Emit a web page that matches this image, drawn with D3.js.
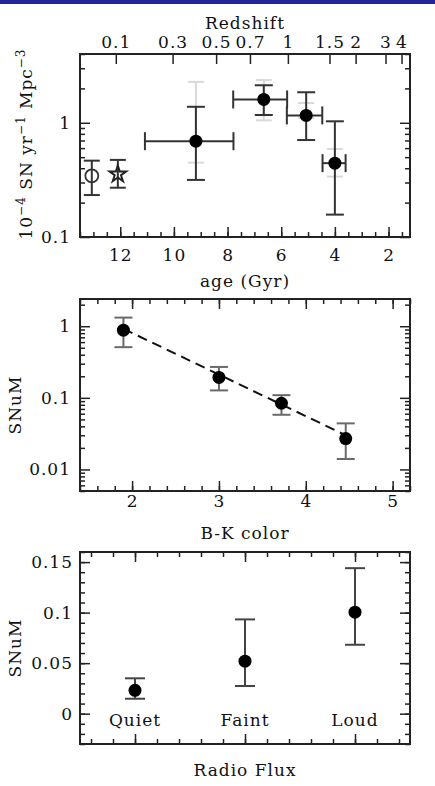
<!DOCTYPE html>
<meta charset="utf-8">
<script src="https://cdn.jsdelivr.net/npm/d3@7"></script>
<style>
  body { margin: 0; background: #fff; }
</style>
<div id="chart"></div>
<script>

// ---- data ----

// panel 1: rate vs age of the universe
var ageBins   = [9.18, 6.65, 5.07, 4.0];
var ageOld    = [11.08, 7.79, 5.79, 4.46];   // left end of x error bar
var ageYoung  = [7.78, 5.78, 4.47, 3.6];     // right end of x error bar
var rateBins  = [0.69, 1.60, 1.16, 0.443];
var rateHi    = [1.38, 2.13, 1.85, 1.03];
var rateLo    = [0.316, 1.17, 0.706, 0.157];
var sysHi     = [2.28, 2.37, 1.49, 0.59];
var sysLo     = [0.448, 1.05, 1.10, 0.338];

var localAge  = [13.06, 12.09];              // open circle, star
var localRate = [0.343, 0.362];
var localHi   = [0.466, 0.473];
var localLo   = [0.233, 0.27];

var ageTicks      = [2, 4, 6, 8, 10, 12];
var redshiftTicks = [0.1, 0.3, 0.5, 0.7, 1, 1.5, 2, 3, 4];
var redshiftLabels = ["0.1", "0.3", "0.5", "0.7", "1", "1.5", "2", "3", "4"];

// panel 2: SNuM vs B-K colour
var bkColor = [1.9, 3.0, 3.72, 4.46];
var bkSNuM  = [0.88, 0.193, 0.084, 0.027];
var bkHi    = [1.32, 0.27, 0.109, 0.044];
var bkLo    = [0.51, 0.127, 0.058, 0.014];
var fitX    = [1.9, 4.46];
var fitY    = [0.92, 0.030];
var bkTicks = [2, 3, 4, 5];

// panel 3: SNuM vs radio flux
var radioCats = ["Quiet", "Faint", "Loud"];
var radioSNuM = [0.0231, 0.052, 0.1005];
var radioHi   = [0.035, 0.0933, 0.144];
var radioLo   = [0.0148, 0.0274, 0.0682];
var radioTicks = [0, 0.05, 0.1, 0.15];

// ---- layout ----
var FONT = "DejaVu Serif, Liberation Serif, serif";
var FS = 17, LS = 1;
var INK = "#222";
var left = 80, right = 410;

var svg = d3.select("#chart").append("svg")
  .attr("width", 435)
  .attr("height", 786);

svg.append("rect")
  .attr("x", 0).attr("y", 0).attr("width", 435).attr("height", 4)
  .attr("fill", "#25239a");

// age of the universe at redshift z (flat LCDM, H0=70, Om=0.3)
function ageAt(z) {
  var om = 0.3, ol = 0.7, hub = 977.8 / 70;
  return 2 / (3 * Math.sqrt(ol)) * hub *
    Math.asinh(Math.sqrt(ol / om) * Math.pow(1 + z, -1.5));
}

function ticks(g, axis, tr, len, fmt, pad) {
  var a = g.append("g").attr("transform", tr)
    .call(axis.tickSize(-len).tickPadding(pad || 0)
      .tickFormat(fmt || function() { return ""; }));
  a.select(".domain").remove();
  a.selectAll("line").attr("stroke", INK).attr("stroke-width", 1.5);
  a.selectAll("text").attr("font-family", FONT).attr("font-size", FS)
    .attr("letter-spacing", LS).attr("fill", "#111");
  return a;
}

function frame(g, w, h) {
  g.append("rect")
    .attr("width", w).attr("height", h)
    .attr("fill", "none").attr("stroke", INK).attr("stroke-width", 2);
}

function vbar(g, x, y0, y1, cap, color) {
  g.append("line").attr("x1", x).attr("x2", x).attr("y1", y0).attr("y2", y1)
    .attr("stroke", color).attr("stroke-width", 2);
  [y0, y1].forEach(function(y) {
    g.append("line").attr("x1", x - cap).attr("x2", x + cap).attr("y1", y).attr("y2", y)
      .attr("stroke", color).attr("stroke-width", 2);
  });
}

function hbar(g, x0, x1, y, cap, color) {
  g.append("line").attr("x1", x0).attr("x2", x1).attr("y1", y).attr("y2", y)
    .attr("stroke", color).attr("stroke-width", 2);
  [x0, x1].forEach(function(x) {
    g.append("line").attr("x1", x).attr("x2", x).attr("y1", y - cap).attr("y2", y + cap)
      .attr("stroke", color).attr("stroke-width", 2);
  });
}

function text(g, s, x, y) {
  return g.append("text").attr("x", x).attr("y", y)
    .attr("font-family", FONT).attr("font-size", FS).attr("letter-spacing", LS)
    .attr("fill", "#111").attr("text-anchor", "middle").text(s);
}

// ---------------- panel 1 ----------------
var p1top = 54, p1h = 183, w = right - left;
var g1 = svg.append("g").attr("transform", "translate(" + left + "," + p1top + ")");

var x1 = d3.scaleLinear().domain([13.5, 1.2]).range([0, w]);
var y1 = d3.scaleLog().domain([0.1, 4]).range([p1h, 0]);

var ageMinor = d3.range(1.5, 13.51, 0.5);
var y1Major = [0.1, 1];
var y1Minor = y1.ticks().filter(function(d) { return y1Major.indexOf(d) < 0; });

ticks(g1, d3.axisBottom(x1).tickValues(ageMinor), "translate(0," + p1h + ")", 5);
ticks(g1, d3.axisBottom(x1).tickValues(ageTicks), "translate(0," + p1h + ")", 10,
  function(d) { return d; }, 12);
ticks(g1, d3.axisTop(x1).tickValues(redshiftTicks.map(ageAt)), "translate(0,0)", 10,
  function(d, i) { return redshiftLabels[i]; }, 6);
ticks(g1, d3.axisLeft(y1).tickValues(y1Minor), "translate(0,0)", 5);
ticks(g1, d3.axisLeft(y1).tickValues(y1Major), "translate(0,0)", 10,
  function(d) { return d; }, 9);
ticks(g1, d3.axisRight(y1).tickValues(y1Minor), "translate(" + w + ",0)", 5);
ticks(g1, d3.axisRight(y1).tickValues(y1Major), "translate(" + w + ",0)", 10);
frame(g1, w, p1h);

// grey systematic bars, behind
ageBins.forEach(function(a, i) {
  vbar(g1, x1(a), y1(sysHi[i]), y1(sysLo[i]), 8, "#d9d9d9");
});
ageBins.forEach(function(a, i) {
  vbar(g1, x1(a), y1(rateHi[i]), y1(rateLo[i]), 9, "#333");
  hbar(g1, x1(ageOld[i]), x1(ageYoung[i]), y1(rateBins[i]), 9, "#333");
  g1.append("circle").attr("cx", x1(a)).attr("cy", y1(rateBins[i])).attr("r", 6.5)
    .attr("fill", "#000");
});
localAge.forEach(function(a, i) {
  vbar(g1, x1(a), y1(localHi[i]), y1(localLo[i]), 8, "#333");
});
g1.append("circle").attr("cx", x1(localAge[0])).attr("cy", y1(localRate[0])).attr("r", 6.5)
  .attr("fill", "none").attr("stroke", "#333").attr("stroke-width", 1.8);
g1.append("path").attr("d", d3.symbol(d3.symbolStar, 85)())
  .attr("transform", "translate(" + x1(localAge[1]) + "," + (y1(localRate[1]) + 1) + ")")
  .attr("fill", "none").attr("stroke", "#222").attr("stroke-width", 2);

text(svg, "Redshift", left + w / 2, 28.5);
text(svg, "age (Gyr)", left + w / 2, 287);

var t1 = svg.append("text")
  .attr("transform", "translate(32,144) rotate(-90)")
  .attr("font-family", FONT).attr("font-size", FS).attr("letter-spacing", LS)
  .attr("fill", "#111").attr("text-anchor", "middle");
t1.append("tspan").text("10");
t1.append("tspan").attr("dy", -7).attr("font-size", 12).text("\u22124");
t1.append("tspan").attr("dy", 7).text(" SN yr");
t1.append("tspan").attr("dy", -7).attr("font-size", 12).text("\u22121");
t1.append("tspan").attr("dy", 7).text(" Mpc");
t1.append("tspan").attr("dy", -7).attr("font-size", 12).text("\u22123");

// ---------------- panel 2 ----------------
var p2top = 299, p2h = 192;
var g2 = svg.append("g").attr("transform", "translate(" + left + "," + p2top + ")");

var x2 = d3.scaleLinear().domain([1.4, 5.2]).range([0, w]);
var y2 = d3.scaleLog().domain([0.005, 2.4]).range([p2h, 0]);

var bkMinor = d3.range(1.4, 5.21, 0.2);
var y2Major = [0.01, 0.1, 1];
var y2Minor = y2.ticks().filter(function(d) { return y2Major.indexOf(d) < 0; });

ticks(g2, d3.axisBottom(x2).tickValues(bkMinor), "translate(0," + p2h + ")", 5);
ticks(g2, d3.axisBottom(x2).tickValues(bkTicks), "translate(0," + p2h + ")", 10,
  function(d) { return d; }, 4);
ticks(g2, d3.axisTop(x2).tickValues(bkMinor), "translate(0,0)", 5);
ticks(g2, d3.axisTop(x2).tickValues(bkTicks), "translate(0,0)", 10);
ticks(g2, d3.axisLeft(y2).tickValues(y2Minor), "translate(0,0)", 5);
ticks(g2, d3.axisLeft(y2).tickValues(y2Major), "translate(0,0)", 10,
  function(d) { return d; }, 9);
ticks(g2, d3.axisRight(y2).tickValues(y2Minor), "translate(" + w + ",0)", 5);
ticks(g2, d3.axisRight(y2).tickValues(y2Major), "translate(" + w + ",0)", 10);
frame(g2, w, p2h);

g2.append("path")
  .attr("d", d3.line().x(function(d) { return x2(d[0]); }).y(function(d) { return y2(d[1]); })
    (fitX.map(function(d, i) { return [d, fitY[i]]; })))
  .attr("fill", "none").attr("stroke", "#111").attr("stroke-width", 2)
  .attr("stroke-dasharray", "10,6");

bkColor.forEach(function(c, i) {
  vbar(g2, x2(c), y2(bkHi[i]), y2(bkLo[i]), 9, "#6a6a6a");
  g2.append("circle").attr("cx", x2(c)).attr("cy", y2(bkSNuM[i])).attr("r", 6.5)
    .attr("fill", "#000");
});

text(svg, "B-K color", left + w / 2, 538.5);
text(svg, "SNuM", 0, 0).attr("transform", "translate(21,405) rotate(-90)");

// ---------------- panel 3 ----------------
var p3top = 552, p3h = 192;
var g3 = svg.append("g").attr("transform", "translate(" + left + "," + p3top + ")");

var x3 = d3.scaleLinear().domain([0.5, 3.5]).range([0, w]);
var y3 = d3.scaleLinear().domain([-0.03, 0.16]).range([p3h, 0]);

var catMinor = d3.range(0.6, 3.41, 0.2);
var catMajor = [1, 2, 3];
var y3Minor = d3.range(-0.03, 0.161, 0.01);

ticks(g3, d3.axisBottom(x3).tickValues(catMinor), "translate(0," + p3h + ")", 5);
ticks(g3, d3.axisBottom(x3).tickValues(catMajor), "translate(0," + p3h + ")", 10);
ticks(g3, d3.axisTop(x3).tickValues(catMinor), "translate(0,0)", 5);
ticks(g3, d3.axisTop(x3).tickValues(catMajor), "translate(0,0)", 10);
ticks(g3, d3.axisLeft(y3).tickValues(y3Minor), "translate(0,0)", 5);
ticks(g3, d3.axisLeft(y3).tickValues(radioTicks), "translate(0,0)", 10,
  function(d) { return d; }, 7);
ticks(g3, d3.axisRight(y3).tickValues(y3Minor), "translate(" + w + ",0)", 5);
ticks(g3, d3.axisRight(y3).tickValues(radioTicks), "translate(" + w + ",0)", 10);
frame(g3, w, p3h);

radioCats.forEach(function(c, i) {
  vbar(g3, x3(i + 1), y3(radioHi[i]), y3(radioLo[i]), 10, "#444");
  g3.append("circle").attr("cx", x3(i + 1)).attr("cy", y3(radioSNuM[i])).attr("r", 6.5)
    .attr("fill", "#000");
  text(g3, c, x3(i + 1), y3(0) + 12);
});

text(svg, "Radio Flux", left + w / 2, 776);
text(svg, "SNuM", 0, 0).attr("transform", "translate(21,648) rotate(-90)");

</script>
